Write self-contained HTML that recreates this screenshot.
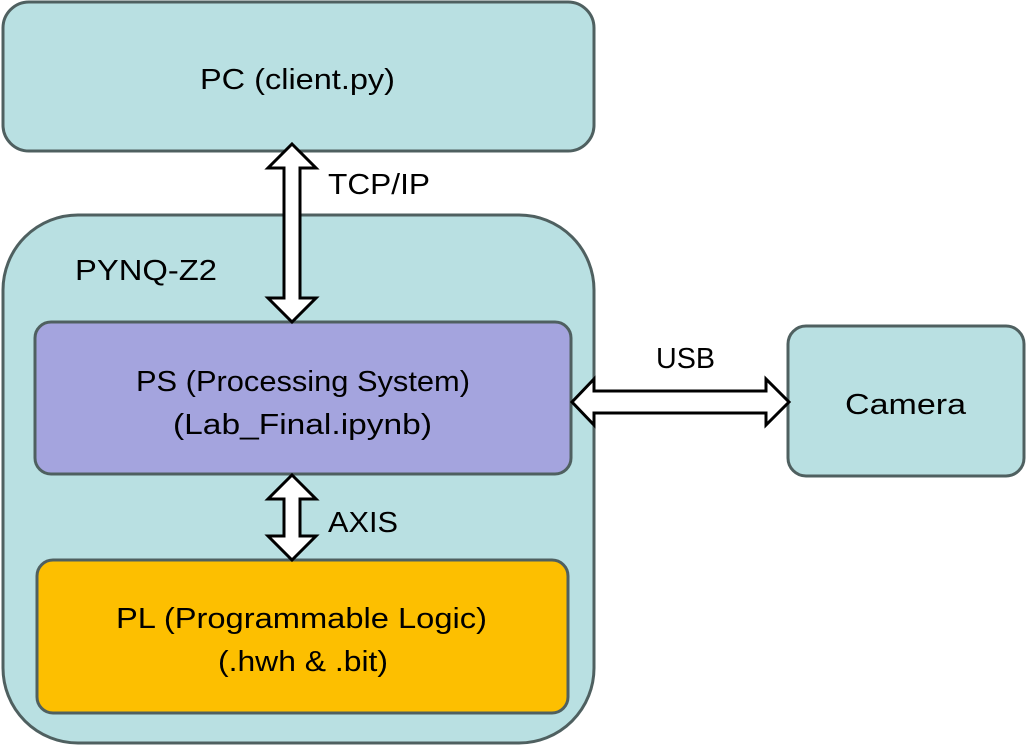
<!DOCTYPE html>
<html><head><meta charset="utf-8"><style>
html,body{margin:0;padding:0;background:#fff;width:1027px;height:746px;overflow:hidden}
svg{display:block}
text{font-family:"Liberation Sans",sans-serif;fill:#000}
</style></head><body>
<svg width="1027" height="746" viewBox="0 0 1027 746">
<g stroke="#4f6060" stroke-width="3">
<rect x="3" y="2" width="591" height="149" rx="26" fill="#b9e0e2"/>
<rect x="3" y="215" width="591" height="528" rx="75" fill="#b9e0e2"/>
<rect x="35" y="322" width="536" height="152" rx="16" fill="#a4a4de"/>
<rect x="37" y="560" width="531" height="153" rx="16" fill="#fdbf00"/>
<rect x="788" y="326" width="236" height="150" rx="18" fill="#b9e0e2"/>
</g>
<g fill="#fff" stroke="#000" stroke-width="3" stroke-linejoin="miter">
<polygon points="292,144 316,168 300,168 300,298 316,298 292,322 268,298 284,298 284,168 268,168"/>
<polygon points="292,475 316,499 300,499 300,536 316,536 292,560 268,536 284,536 284,499 268,499"/>
<polygon points="572,402 594,379 594,391 766,391 766,379 789,402 766,425 766,413 594,413 594,425"/>
</g>
<g font-size="29" lengthAdjust="spacingAndGlyphs">
<text x="200" y="89" textLength="195" lengthAdjust="spacingAndGlyphs">PC (client.py)</text>
<text x="136" y="391" textLength="334" lengthAdjust="spacingAndGlyphs">PS (Processing System)</text>
<text x="173" y="434" textLength="259" lengthAdjust="spacingAndGlyphs">(Lab_Final.ipynb)</text>
<text x="116" y="628" textLength="371" lengthAdjust="spacingAndGlyphs">PL (Programmable Logic)</text>
<text x="218" y="671" textLength="170" lengthAdjust="spacingAndGlyphs">(.hwh &amp; .bit)</text>
<text x="845" y="414" textLength="121" lengthAdjust="spacingAndGlyphs">Camera</text>
<text x="328" y="194" textLength="102" lengthAdjust="spacingAndGlyphs">TCP/IP</text>
<text x="75" y="280" textLength="142" lengthAdjust="spacingAndGlyphs">PYNQ-Z2</text>
<text x="656" y="368" textLength="59" lengthAdjust="spacingAndGlyphs">USB</text>
<text x="328" y="532" textLength="70" lengthAdjust="spacingAndGlyphs">AXIS</text>
</g>
</svg>
</body></html>
